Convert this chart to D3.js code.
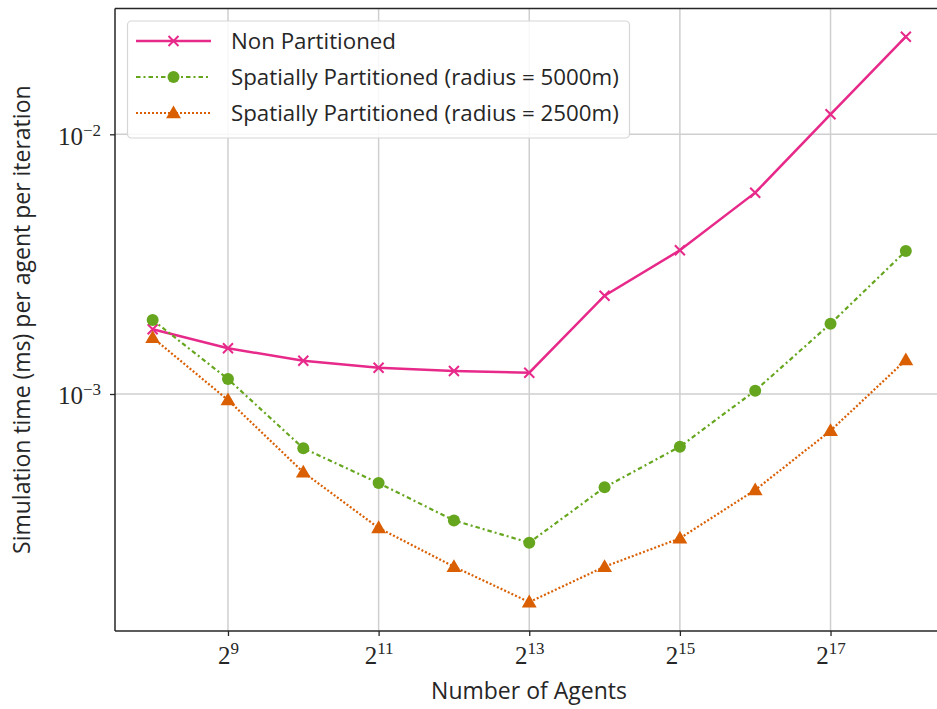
<!DOCTYPE html>
<html>
<head>
<meta charset="utf-8">
<script src="https://cdn.jsdelivr.net/npm/d3@7"></script>
<style>
  body { margin: 0; background: #fff; }
  text { fill: #262626; }
</style>
</head>
<body>
<div id="chart"></div>
<script>
// Data
const agentPowers = [8, 9, 10, 11, 12, 13, 14, 15, 16, 17, 18];
const nonPartitioned = [1.775e-3, 1.50e-3, 1.342e-3, 1.262e-3, 1.226e-3, 1.208e-3, 2.39e-3, 3.576e-3, 5.96e-3, 1.194e-2, 2.376e-2];
const spatial5000 = [1.927e-3, 1.142e-3, 6.18e-4, 4.54e-4, 3.26e-4, 2.676e-4, 4.37e-4, 6.27e-4, 1.03e-3, 1.865e-3, 3.553e-3];
const spatial2500 = [1.647e-3, 9.48e-4, 4.995e-4, 3.05e-4, 2.163e-4, 1.58e-4, 2.163e-4, 2.782e-4, 4.27e-4, 7.22e-4, 1.352e-3];
const xTickPowers = [9, 11, 13, 15, 17];
const yTickExps = [-3, -2];
const seriesNames = ["Non Partitioned", "Spatially Partitioned (radius = 5000m)", "Spatially Partitioned (radius = 2500m)"];

const width = 937, height = 709;
const plotLeft = 115, plotTop = 8.4, plotBottom = 631, plotRight = 943.5;

const svg = d3.select("#chart").append("svg")
    .attr("width", width)
    .attr("height", height);

// Scales (x is log2, y is log10)
const x = d3.scaleLog().base(2)
    .domain([Math.pow(2, 7.5), Math.pow(2, 18.5)])
    .range([plotLeft, plotRight]);
const y = d3.scaleLog()
    .domain([Math.pow(10, -3.9126), Math.pow(10, -1.5152)])
    .range([plotBottom, plotTop]);

const series = [
    { name: seriesNames[0], values: nonPartitioned, color: "#e7298a", dash: null, marker: "x" },
    { name: seriesNames[1], values: spatial5000, color: "#66a61e", dash: "4.5,3,2,3", marker: "circle" },
    { name: seriesNames[2], values: spatial2500, color: "#d95f02", dash: "2,2", marker: "triangle" }
];

// Grid
const grid = svg.append("g");
grid.selectAll(".gx").data(xTickPowers).enter().append("line")
    .attr("x1", d => x(Math.pow(2, d))).attr("x2", d => x(Math.pow(2, d)))
    .attr("y1", plotTop).attr("y2", plotBottom)
    .attr("stroke", "#cfcfcf").attr("stroke-width", 1.5);
grid.selectAll(".gy").data(yTickExps).enter().append("line")
    .attr("x1", plotLeft).attr("x2", plotRight)
    .attr("y1", d => y(Math.pow(10, d))).attr("y2", d => y(Math.pow(10, d)))
    .attr("stroke", "#cfcfcf").attr("stroke-width", 1.5);

// Axes
const xAxis = d3.axisBottom(x)
    .tickValues(xTickPowers.map(p => Math.pow(2, p)))
    .tickSize(5).tickFormat("");
const yAxis = d3.axisLeft(y)
    .tickValues(yTickExps.map(e => Math.pow(10, e)))
    .tickSize(5).tickFormat("");

const gx = svg.append("g").attr("transform", `translate(0,${plotBottom})`).call(xAxis);
const gy = svg.append("g").attr("transform", `translate(${plotLeft},0)`).call(yAxis);
[gx, gy].forEach(g => {
    g.select(".domain").remove();
    g.selectAll(".tick line").attr("stroke", "#262626").attr("stroke-width", 1.3);
});

// Tick labels with superscripts
const mathFont = "'Liberation Serif', 'DejaVu Serif', serif";
gx.selectAll(".tick").append("text")
    .attr("y", 33)
    .attr("text-anchor", "middle")
    .style("font-family", mathFont)
    .style("font-size", "25px")
    .each(function(d) {
        const t = d3.select(this);
        const p = Math.round(Math.log2(d));
        t.append("tspan").text("2");
        t.append("tspan").attr("dy", -10).style("font-size", "17px").text(p);
    });
gy.selectAll(".tick").append("text")
    .attr("x", -14)
    .attr("dy", 10)
    .attr("text-anchor", "end")
    .style("font-family", mathFont)
    .style("font-size", "25px")
    .each(function(d) {
        const t = d3.select(this);
        const e = Math.round(Math.log10(d));
        t.append("tspan").text("10");
        t.append("tspan").attr("dy", -9).style("font-size", "17px").text("\u2212" + Math.abs(e));
    });

// Spines (left, bottom, top; right falls off the canvas)
const spine = svg.append("g").attr("stroke", "#262626").attr("stroke-width", 1.5).attr("fill", "none");
spine.append("line").attr("x1", plotLeft).attr("x2", plotLeft).attr("y1", plotTop).attr("y2", plotBottom);
spine.append("line").attr("x1", plotLeft).attr("x2", plotRight).attr("y1", plotBottom).attr("y2", plotBottom);
spine.append("line").attr("x1", plotLeft).attr("x2", plotRight).attr("y1", plotTop).attr("y2", plotTop);

// Lines and markers
const line = d3.line()
    .x((d, i) => x(Math.pow(2, agentPowers[i])))
    .y(d => y(d));

const triangle = d3.symbol().type(d3.symbolTriangle).size(95);

function drawMarker(g, marker, color) {
    if (marker === "x") {
        g.append("path").attr("d", "M-5,-5L5,5M-5,5L5,-5")
            .attr("stroke", color).attr("stroke-width", 2).attr("fill", "none");
    } else if (marker === "circle") {
        g.append("circle").attr("r", 6).attr("fill", color);
    } else {
        g.append("path").attr("d", triangle()).attr("transform", "translate(0,1)").attr("fill", color);
    }
}

series.forEach(s => {
    svg.append("path")
        .datum(s.values)
        .attr("d", line)
        .attr("fill", "none")
        .attr("stroke", s.color)
        .attr("stroke-width", s.dash ? 2.2 : 2.5)
        .attr("stroke-dasharray", s.dash);
    svg.append("g").selectAll("g")
        .data(s.values)
        .enter().append("g")
        .attr("transform", (d, i) => `translate(${x(Math.pow(2, agentPowers[i]))},${y(d)})`)
        .each(function() { drawMarker(d3.select(this), s.marker, s.color); });
});

// Legend
const textFont = "'Open Sans', Lato, sans-serif";
const legend = svg.append("g");
legend.append("rect")
    .attr("x", 127.5).attr("y", 21).attr("width", 502).attr("height", 117)
    .attr("rx", 4)
    .attr("fill", "#fff").attr("fill-opacity", 0.85)
    .attr("stroke", "#d6d6d6").attr("stroke-width", 1.2);
series.forEach((s, i) => {
    const cy = 41 + i * 36;
    const row = legend.append("g");
    row.append("line")
        .attr("x1", 136).attr("x2", 211).attr("y1", cy).attr("y2", cy)
        .attr("stroke", s.color)
        .attr("stroke-width", s.dash ? 2.2 : 2.5)
        .attr("stroke-dasharray", s.dash);
    drawMarker(row.append("g").attr("transform", `translate(173.5,${cy})`), s.marker, s.color);
    row.append("text")
        .attr("x", 231).attr("y", cy + 8)
        .style("font-family", textFont)
        .style("font-size", "22.3px")
        .text(s.name);
});

// Axis labels
svg.append("text")
    .attr("x", 529).attr("y", 699)
    .attr("text-anchor", "middle")
    .style("font-family", textFont)
    .style("font-size", "23px")
    .text("Number of Agents");
svg.append("text")
    .attr("transform", `translate(30,${(plotTop + plotBottom) / 2}) rotate(-90)`)
    .attr("text-anchor", "middle")
    .style("font-family", textFont)
    .style("font-size", "23px")
    .text("Simulation time (ms) per agent per iteration");
</script>
</body>
</html>
